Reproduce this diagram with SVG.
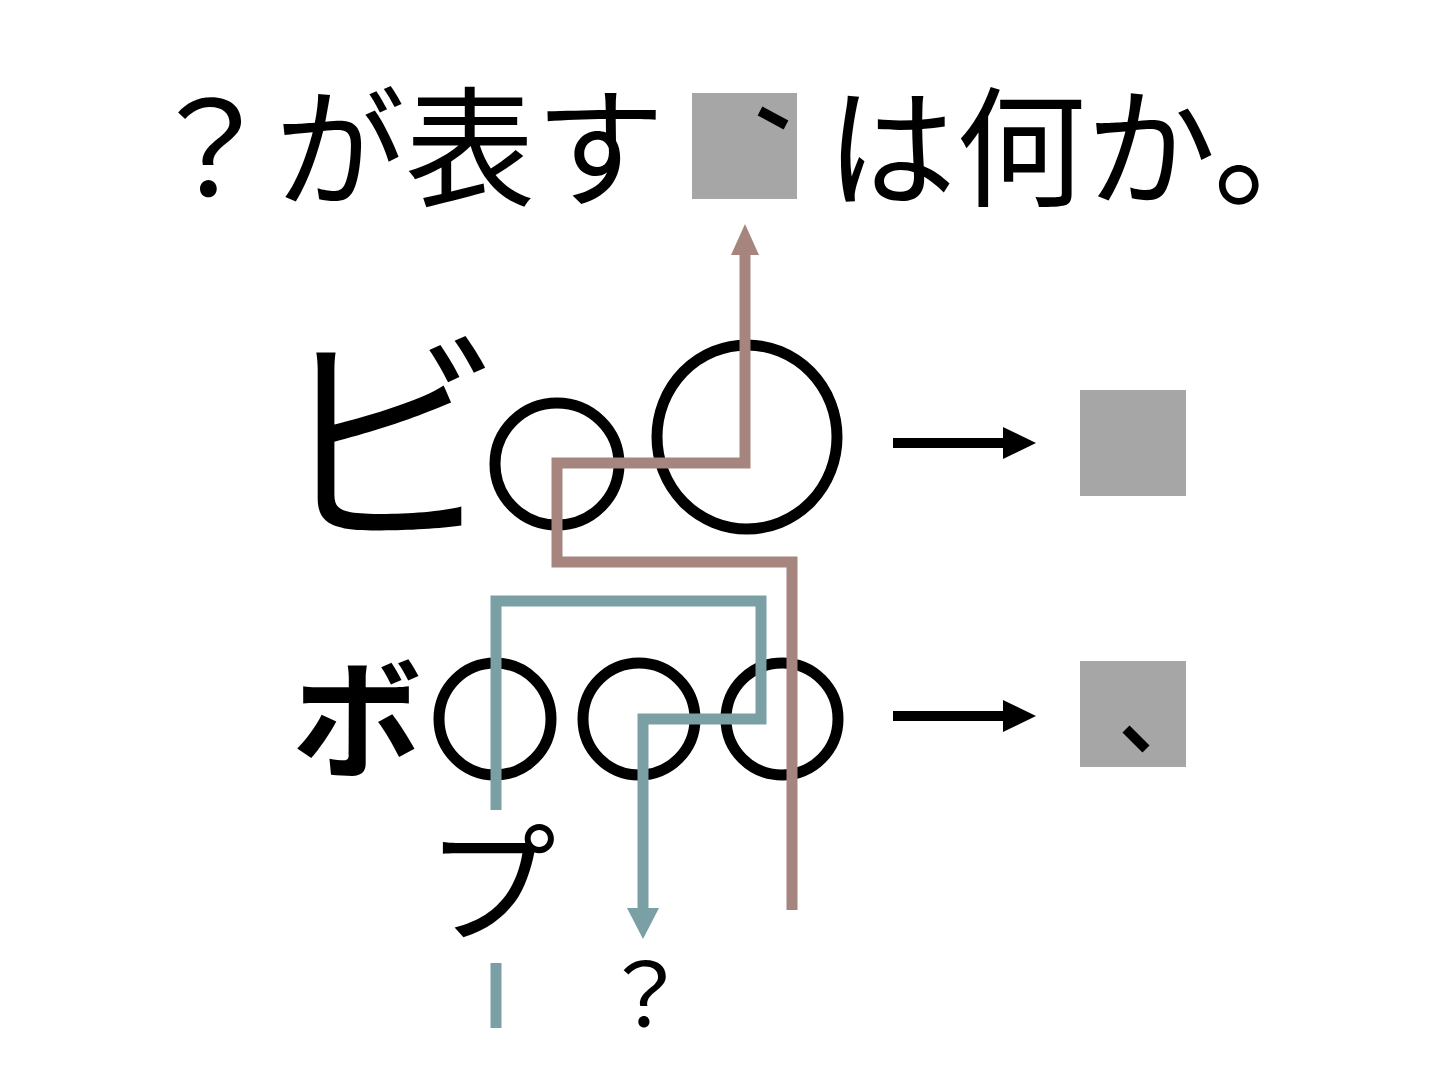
<svg xmlns="http://www.w3.org/2000/svg" width="1440" height="1080" viewBox="0 0 1440 1080">
<style>
.jp{font-family:"Noto Sans CJK JP","Noto Sans CJK SC",sans-serif;fill:#000}
.ring{fill:none;stroke:#000;stroke-width:11}
.box{fill:#a6a6a6}
.mark{stroke:#000;stroke-width:10;stroke-linecap:butt}
.brown{fill:none;stroke:#a6857f;stroke-width:11;stroke-linejoin:miter}
.teal{fill:none;stroke:#7aa0a6;stroke-width:11;stroke-linejoin:miter}
.blk{fill:none;stroke:#000;stroke-width:10}
</style>
<rect width="1440" height="1080" fill="#fff"/>
<g id="title">
<text class="jp" x="145" y="196" font-size="130">？が表す</text>
<rect class="box" x="692" y="93" width="105" height="106"/>
<line class="mark" x1="760" y1="111" x2="786" y2="125"/>
<text class="jp" x="826" y="196" font-size="130">は何か。</text>
</g>
<g id="row1">
<text class="jp" x="272" y="526" font-size="232" font-weight="350">ビ</text>
<ellipse class="ring" cx="557" cy="464" rx="62" ry="61"/>
<ellipse class="ring" cx="747" cy="437" rx="90" ry="92"/>
</g>
<g id="row2">
<text class="jp" x="292" y="768" font-size="130" font-weight="bold">ボ</text>
<ellipse class="ring" cx="495" cy="719" rx="56" ry="56" stroke-width="12"/>
<ellipse class="ring" cx="639" cy="719" rx="56" ry="56" stroke-width="12"/>
<ellipse class="ring" cx="782" cy="719" rx="56" ry="56" stroke-width="12"/>
</g>
<g id="out1">
<rect class="box" x="1080" y="390" width="106" height="106"/>
</g>
<g id="out2">
<rect class="box" x="1080" y="661" width="106" height="106"/>
<line class="mark" x1="1126" y1="729" x2="1146" y2="749"/>
</g>
<g id="pu">
<text class="jp" x="426" y="932" font-size="130">プ</text>
</g>
<g id="q">
<text class="jp" x="645" y="1027" font-size="87" text-anchor="middle">？</text>
</g>
<g id="connectors">
<polyline class="brown" points="745,254 745,463 557,463 557,562 792,562 792,910"/>
<polygon points="745,224 731,255 759,255" fill="#a6857f"/>
<polyline class="teal" points="496,810 496,601 761,601 761,719 643,719 643,910"/>
<polygon points="643,939 627,908 659,908" fill="#7aa0a6"/>
<line x1="496" y1="963" x2="496" y2="1028" stroke="#7aa0a6" stroke-width="11"/>
<line class="blk" x1="893" y1="443" x2="1006" y2="443"/>
<polygon points="1036,443 1003,427 1003,459" fill="#000"/>
<line class="blk" x1="893" y1="716" x2="1006" y2="716"/>
<polygon points="1036,716 1003,700 1003,732" fill="#000"/>
</g>
</svg>
